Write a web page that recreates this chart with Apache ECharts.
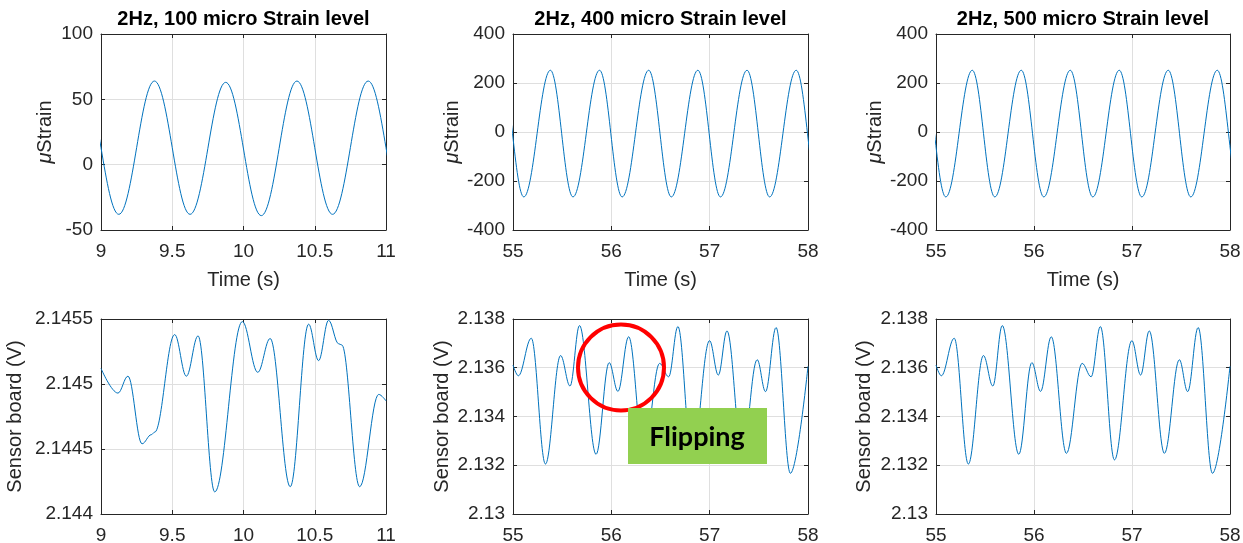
<!DOCTYPE html>
<html>
<head>
<meta charset="utf-8">
<title>Strain vs sensor board</title>
<script src="https://cdn.jsdelivr.net/npm/echarts@6/dist/echarts.min.js"></script>
<style>
html, body { margin: 0; padding: 0; background: #fff; }
#main { width: 1243px; height: 543px; }
</style>
</head>
<body>
<div id="main"></div>
<script>
// ---- data (peaks / troughs / shoulders) ----
const titles = ['2Hz, 100 micro Strain level', '2Hz, 400 micro Strain level', '2Hz, 500 micro Strain level'];

// top row: strain (the two outer points on each side continue the wave past the axis ends)
const t100 = [8.625, 8.875, 9.125, 9.375, 9.625, 9.875, 10.125, 10.375, 10.625, 10.875, 11.125, 11.375];
const s100 = [-38, 64, -38, 64, -38, 63, -39, 64, -38, 64, -38, 64];

const t400 = [54.61, 54.88, 55.11, 55.38, 55.61, 55.88, 56.11, 56.38, 56.61, 56.88, 57.11, 57.38, 57.61, 57.88, 58.11, 58.38];
const s400 = [-265, 252, -265, 252, -265, 252, -265, 252, -265, 252, -265, 252, -265, 252, -265, 252];

const t500 = [54.60, 54.87, 55.10, 55.37, 55.60, 55.87, 56.10, 56.37, 56.60, 56.87, 57.10, 57.37, 57.60, 57.87, 58.10, 58.37];
const s500 = [-265, 252, -265, 252, -265, 252, -265, 252, -265, 252, -265, 252, -265, 252, -265, 252];

// bottom row: sensor board voltage
const tv100 = [9.0, 9.119, 9.189, 9.288, 9.353, 9.377, 9.517, 9.599, 9.681, 9.798, 9.992, 10.10, 10.187,
  10.328, 10.457, 10.527, 10.597, 10.667, 10.69, 10.815, 10.949, 11.0];
const v100 = [2.14512, 2.14493, 2.14506, 2.14454, 2.14461, 2.14463, 2.14538, 2.14506, 2.14537, 2.14417,
  2.14548, 2.14509, 2.14535, 2.14421, 2.14546, 2.14518, 2.14549, 2.14531, 2.14530, 2.14421, 2.14492, 2.14487];

const tv400 = [55.0, 55.054, 55.186, 55.33, 55.484, 55.58, 55.676, 55.845, 55.978, 56.067, 56.176, 56.331,
  56.491, 56.583, 56.677, 56.821, 56.999, 57.088, 57.176, 57.331, 57.483, 57.568, 57.675, 57.821, 58.0];
const v400 = [2.13611, 2.13567, 2.13721, 2.13205, 2.1365, 2.13525, 2.13773, 2.13245, 2.13621, 2.13503,
  2.13727, 2.13249, 2.13618, 2.13563, 2.13769, 2.13222, 2.13711, 2.1357, 2.13751, 2.13249, 2.13633,
  2.13502, 2.13765, 2.13167, 2.13606];
// the 500 trace reads the same as the 400 one
const tv500 = tv400;
const v500 = v400;

// ---- look ----
const FONT = '"Liberation Sans", Arial, sans-serif';
const INK = '#262626';
const BLUE = '#0072bd';

function pairs(ts, vs) {
  return ts.map((t, i) => [t, vs[i]]);
}

const panels = [
  { box: [101, 34, 285, 196], title: titles[0], x: [9, 11, 0.5], y: [-50, 100, 50], data: pairs(t100, s100), strain: true, yGap: 46 },
  { box: [513, 34, 295, 196], title: titles[1], x: [55, 58, 1], y: [-400, 400, 200], data: pairs(t400, s400), strain: true, yGap: 51 },
  { box: [936, 34, 294, 196], title: titles[2], x: [55, 58, 1], y: [-400, 400, 200], data: pairs(t500, s500), strain: true, yGap: 51 },
  { box: [101, 319, 285, 195], x: [9, 11, 0.5], y: [2.144, 2.1455, 0.0005], data: pairs(tv100, v100), yGap: 76 },
  { box: [513, 319, 295, 195], x: [55, 58, 1], y: [2.13, 2.138, 0.002], data: pairs(tv400, v400), yGap: 61 },
  { box: [936, 319, 294, 195], x: [55, 58, 1], y: [2.13, 2.138, 0.002], data: pairs(tv500, v500), yGap: 62 }
];

const grid = [], xAxis = [], yAxis = [], series = [], title = [];
const tick = { inside: true, length: 4, lineStyle: { color: INK } };
const line = { onZero: false, lineStyle: { color: INK, width: 1 } };
const nameStyle = { color: INK, fontSize: 20, fontFamily: FONT, rich: { i: { fontStyle: 'italic', fontSize: 20, fontFamily: FONT, color: INK } } };

panels.forEach((p, i) => {
  grid.push({ left: p.box[0], top: p.box[1], width: p.box[2], height: p.box[3], outerBoundsMode: 'none' });
  if (p.title) {
    title.push({
      text: p.title, left: p.box[0] + p.box[2] / 2, top: 9, textAlign: 'center', padding: 0,
      textStyle: { fontFamily: FONT, fontSize: 20, fontWeight: 'bold', color: '#000' }
    });
  }
  const xr = { type: 'value', gridIndex: i, min: p.x[0], max: p.x[1], interval: p.x[2] };
  const yr = { type: 'value', gridIndex: i, min: p.y[0], max: p.y[1], interval: p.y[2] };
  xAxis.push(Object.assign({}, xr, {
    position: 'bottom', axisLine: line, axisTick: tick,
    axisLabel: { color: INK, fontSize: 19, fontFamily: FONT, margin: 12 },
    splitLine: { show: true, lineStyle: { color: '#dfdfdf', width: 1 } },
    name: p.strain ? 'Time (s)' : '', nameLocation: 'middle', nameGap: 40, nameTextStyle: nameStyle
  }));
  xAxis.push(Object.assign({}, xr, {
    position: 'top', axisLine: line, axisTick: tick, axisLabel: { show: false }, splitLine: { show: false }
  }));
  yAxis.push(Object.assign({}, yr, {
    position: 'left', axisLine: line, axisTick: tick,
    axisLabel: {
      color: INK, fontSize: 19, fontFamily: FONT, margin: 8,
      formatter: v => String(+v.toFixed(4))
    },
    splitLine: { show: true, lineStyle: { color: '#dfdfdf', width: 1 } },
    name: p.strain ? '{i|\u03bc}Strain' : 'Sensor board (V)',
    nameLocation: 'middle', nameGap: p.yGap, nameTextStyle: nameStyle
  }));
  yAxis.push(Object.assign({}, yr, {
    position: 'right', axisLine: line, axisTick: tick, axisLabel: { show: false }, splitLine: { show: false }
  }));
  series.push({
    type: 'line', xAxisIndex: 2 * i, yAxisIndex: 2 * i, data: p.data,
    smooth: 0.37, smoothMonotone: 'x', showSymbol: false, clip: true,
    lineStyle: { color: BLUE, width: 1 }, itemStyle: { color: BLUE }
  });
});

// "Flipping" annotation on the middle sensor panel
const graphic = [
  {
    type: 'circle', z: 100, shape: { cx: 621, cy: 367.5, r: 43 },
    style: { fill: 'none', stroke: '#ff0000', lineWidth: 4 }
  },
  {
    type: 'rect', z: 100, shape: { x: 628, y: 408, width: 139, height: 56 },
    style: { fill: '#92d050' }
  },
  {
    type: 'text', z: 101, x: 697, y: 437,
    style: { text: 'Flipping', fill: '#000', font: 'bold 27px Lato, "Open Sans", sans-serif', align: 'center', verticalAlign: 'middle' }
  }
];

const chart = echarts.init(document.getElementById('main'));
chart.setOption({
  animation: false,
  backgroundColor: '#fff',
  title: title,
  grid: grid,
  xAxis: xAxis,
  yAxis: yAxis,
  series: series,
  graphic: graphic
});
</script>
</body>
</html>
